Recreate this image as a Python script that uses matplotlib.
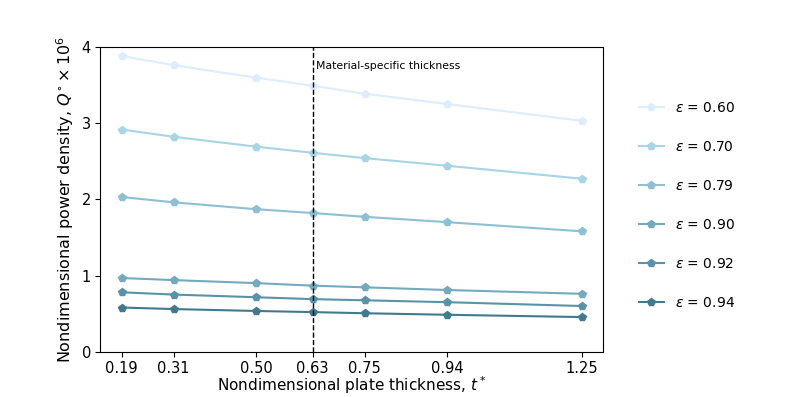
import matplotlib
matplotlib.use("Agg")
from matplotlib import pyplot as plt

thickness = [0.19, 0.31, 0.50, 0.63, 0.75, 0.94, 1.25]
emissivity = [0.60, 0.70, 0.79, 0.90, 0.92, 0.94]

# Q* x 1e6 for each emissivity
q_060 = [3.88, 3.76, 3.595, 3.49, 3.385, 3.25, 3.03]
q_070 = [2.915, 2.82, 2.69, 2.61, 2.54, 2.44, 2.27]
q_079 = [2.03, 1.96, 1.87, 1.82, 1.77, 1.70, 1.58]
q_090 = [0.967, 0.94, 0.90, 0.867, 0.845, 0.81, 0.76]
q_092 = [0.78, 0.75, 0.715, 0.69, 0.675, 0.65, 0.60]
q_094 = [0.58, 0.56, 0.535, 0.52, 0.505, 0.485, 0.455]
series = [q_060, q_070, q_079, q_090, q_092, q_094]

colors = ['#dcedfd', '#a6d5e4', '#8cc0d2', '#73aabe', '#5a93a8', '#417a8d']

material_t = 0.63

fig, ax = plt.subplots(figsize=(7.93, 3.97), dpi=100)
fig.subplots_adjust(left=0.126, right=0.761, top=0.882, bottom=0.114)

for eps, q, c in zip(emissivity, series, colors):
    ax.plot(thickness, q, marker='p', markersize=6, color=c, linewidth=1.5,
            label=r'$\varepsilon$ = %.2f' % eps)

ax.axvline(material_t, color='black', linestyle='--', linewidth=1)
ax.text(material_t + 0.008, 3.71, 'Material-specific thickness', fontsize=7.8)

ax.set_xlim(0.14, 1.30)
ax.set_ylim(0, 4)
ax.set_xticks(thickness)
ax.set_xticklabels(['%.2f' % t for t in thickness])
ax.set_yticks([0, 1, 2, 3, 4])
ax.tick_params(labelsize=10.5, pad=3)
ax.set_xlabel(r'Nondimensional plate thickness, $t^*$', fontsize=11, labelpad=-1)
ax.set_ylabel(r'Nondimensional power density, $Q^{\circ} \times 10^6$', fontsize=11.5)

ax.legend(loc='center left', bbox_to_anchor=(1.045, 0.48), frameon=False,
          labelspacing=1.8, handlelength=1.8, fontsize=10)

fig.savefig('out.png', dpi=100)
